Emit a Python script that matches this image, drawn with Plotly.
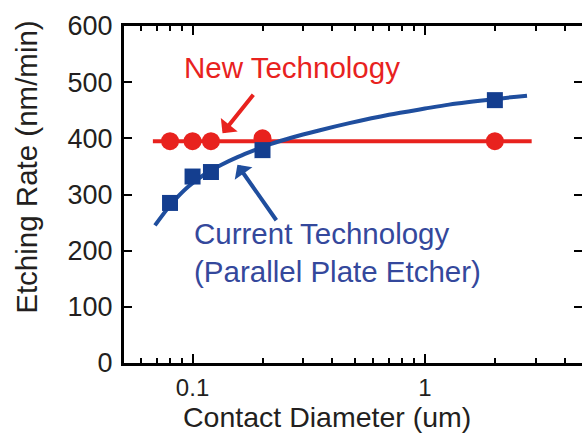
import plotly.graph_objects as go

# Data
new_x = [0.08, 0.1, 0.12, 0.2, 2.0]
new_y = [395, 395, 395, 400, 395]
new_line_x = [0.0675, 2.88]
new_line_y = [395, 395]

cur_x = [0.08, 0.1, 0.12, 0.2, 2.0]
cur_y = [285, 332, 340, 379, 468]
fit_x = [0.0689, 0.0813, 0.0957, 0.1129, 0.1332, 0.157, 0.185, 0.218, 0.266,
         0.35, 0.473, 0.7, 1.0, 1.27, 2.0, 2.75]
fit_y = [245, 284, 314, 336, 353, 367, 379, 390, 401,
         414, 427, 442, 453, 460, 470, 476]

x_tickvals = [0.1, 1]
x_ticktext = ["0.1", "1"]
x_minor = [0.06, 0.07, 0.08, 0.09, 0.2, 0.3, 0.4, 0.5, 0.6, 0.7, 0.8, 0.9, 2, 3, 4]
y_tickvals = [0, 100, 200, 300, 400, 500, 600]

RED = "#e8221e"
BLUE_LINE = "#1f4e9e"
BLUE_MARK = "#143e8f"
BLUE_TEXT = "#34489c"
FONT = "Arial, Liberation Sans, sans-serif"
INK = "#231f20"

fig = go.Figure()
fig.add_trace(go.Scatter(x=new_line_x, y=new_line_y, mode="lines",
                         line=dict(color=RED, width=4), showlegend=False))
fig.add_trace(go.Scatter(x=new_x, y=new_y, mode="markers",
                         marker=dict(color=RED, size=18, symbol="circle", line=dict(width=0)),
                         showlegend=False))
fig.add_trace(go.Scatter(x=fit_x, y=fit_y, mode="lines",
                         line=dict(color=BLUE_LINE, width=4, shape="spline", smoothing=0.8),
                         showlegend=False))
fig.add_trace(go.Scatter(x=cur_x, y=cur_y, mode="markers",
                         marker=dict(color=BLUE_MARK, size=16, symbol="square", line=dict(width=0)),
                         showlegend=False))
# dummy trace for right-side y ticks
fig.add_trace(go.Scatter(x=[None], y=[None], yaxis="y2", showlegend=False))

fig.update_layout(
    width=582, height=435,
    margin=dict(l=124, r=0, t=26, b=72),
    paper_bgcolor="white", plot_bgcolor="white",
    font=dict(family=FONT, color=INK),
    xaxis=dict(type="log", range=[-1.295, 0.676],
               tickmode="array", tickvals=x_tickvals, ticktext=x_ticktext,
               ticks="inside", ticklen=9, tickwidth=1.5, tickcolor="black",
               minor=dict(tickmode="array", tickvals=x_minor, ticks="inside",
                          ticklen=5, tickwidth=1.5, tickcolor="black", showgrid=False),
               showline=True, linecolor="black", linewidth=3, mirror="ticks",
               showgrid=False, zeroline=False, ticklabelstandoff=1,
               tickfont=dict(size=24, family=FONT, color=INK)),
    yaxis=dict(range=[0, 600], tickmode="array", tickvals=y_tickvals,
               ticks="inside", ticklen=8, tickwidth=1.5, tickcolor="black",
               showline=True, linecolor="black", linewidth=3,
               showgrid=False, zeroline=False, ticklabelstandoff=3,
               tickfont=dict(size=27, family=FONT, color=INK)),
    yaxis2=dict(range=[0, 600], tickmode="array", tickvals=y_tickvals,
                overlaying="y", side="right", showline=False,
                ticks="inside", ticklen=8, tickwidth=1.5, tickcolor="black",
                showticklabels=False, showgrid=False, zeroline=False),
)

fig.add_annotation(text="Contact Diameter (um)", xref="paper", yref="paper",
                   x=0.444, y=-0.159, showarrow=False, xanchor="center", yanchor="middle",
                   font=dict(size=28.5, family=FONT, color=INK))
fig.add_annotation(text="Etching Rate (nm/min)", xref="paper", yref="paper",
                   x=-0.212, y=0.582, showarrow=False, textangle=-90,
                   xanchor="center", yanchor="middle",
                   font=dict(size=29.5, family=FONT, color=INK))

fig.add_annotation(text="New Technology", x=-1.045, y=526, xref="x", yref="y",
                   showarrow=False, xanchor="left", yanchor="middle",
                   font=dict(size=29.5, family=FONT, color=RED))
fig.add_annotation(text="Current Technology<br>(Parallel Plate Etcher)", x=-1.003, y=197,
                   xref="x", yref="y", showarrow=False, xanchor="left", yanchor="middle",
                   align="left", font=dict(size=29.5, family=FONT, color=BLUE_TEXT))

# arrows
fig.add_annotation(text="", x=-0.871, y=409, xref="x", yref="y",
                   ax=32, ay=-40, showarrow=True, arrowhead=1, arrowsize=0.9,
                   arrowwidth=4, arrowcolor=RED, standoff=0)
fig.add_annotation(text="", x=-0.807, y=353, xref="x", yref="y",
                   ax=40, ay=57, showarrow=True, arrowhead=1, arrowsize=0.9,
                   arrowwidth=4, arrowcolor=BLUE_LINE, standoff=0)

fig.write_html("out.html")
